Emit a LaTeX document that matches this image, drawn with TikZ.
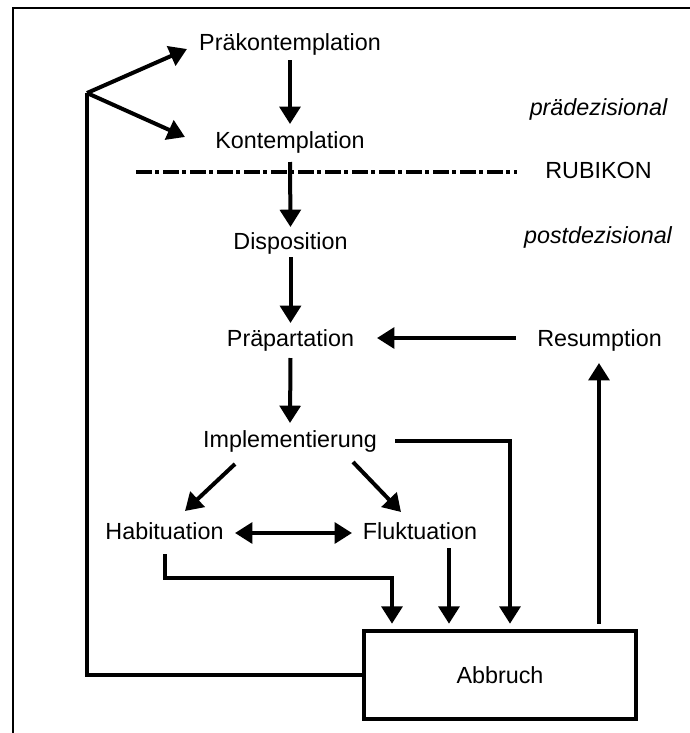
\documentclass[tikz,border=0pt]{standalone}
\usepackage{fontspec}
\setmainfont{Liberation Sans}
\usetikzlibrary{arrows.meta,calc}
\begin{document}
\begin{tikzpicture}[x=0.75pt,y=-0.75pt,
  lbl/.style={font=\fontsize{17.5}{20}\selectfont, inner sep=0pt, anchor=base},
  ilbl/.style={lbl, font=\fontsize{17.5}{20}\selectfont\itshape},
  conn/.style={line width=3pt},
  arr/.style={conn, -{Triangle[length=13pt,width=15.5pt]}},
  darr/.style={conn, {Triangle[length=13pt,width=15.5pt]}-{Triangle[length=13pt,width=15.5pt]}},
  boxst/.style={draw, line width=3.4pt, minimum width=204pt, minimum height=66pt, inner sep=0pt, font=\fontsize{17.5}{20}\selectfont},
  rubline/.style={line width=3.6pt, dash pattern=on 12pt off 2.25pt on 3pt off 3pt},
]
\useasboundingbox (0,0) rectangle (690,733);
\draw[line width=1.5pt] (13,733) -- (13,8) -- (690,8);

% nodes
\node[lbl] (pk) at (290,50) {Präkontemplation};
\node[lbl] (ko) at (290,148) {Kontemplation};
\node[ilbl] (pre) at (598.5,115) {prädezisional};
\node[lbl] (rub) at (598.5,178) {RUBIKON};
\node[lbl] (di) at (290.5,249) {Disposition};
\node[ilbl] (post) at (598,243) {postdezisional};
\node[lbl] (pp) at (290.5,346) {Präpartation};
\node[lbl] (re) at (599.5,346) {Resumption};
\node[lbl] (im) at (290,447) {Implementierung};
\node[lbl] (ha) at (164.5,539) {Habituation};
\node[lbl] (fl) at (420,539) {Fluktuation};
\node[boxst] (ab) at (500,675) {Abbruch};

% helper coordinates
\coordinate (fork) at (87,93);
\coordinate (rubL) at (136,172);
\coordinate (rubR) at (517,172);

% Rubikon line
\draw[rubline] (rubL) -- (rubR);

% main chain
\draw[arr] ($(pk.base)+(0,10)$) -- ($(ko.base)+(0,-24)$);
\draw[arr] ($(ko.base)+(0,14)$) -- ($(di.base)+(0,-22)$);
\draw[arr] ($(di.base)+(0,8)$) -- ($(pp.base)+(0,-23)$);
\draw[arr] ($(pp.base)+(0,12)$) -- ($(im.base)+(0,-24)$);

% resumption
\draw[arr] ($(re.base)+(-83.5,-8)$) -- ($(pp.base)+(86.5,-8)$);
\draw[arr] ($(ab.north)+(99,-5)$) -- ($(re.base)+(-0.5,17)$);

% implementierung branches
\draw[arr] ($(im.base)+(-55,17)$) -- ($(ha.base)+(20.5,-28)$);
\draw[arr] ($(im.base)+(63,15)$) -- ($(fl.base)+(-19,-27)$);
\draw[darr] ($(ha.base)+(70.5,-6)$) -- ($(fl.base)+(-68,-6)$);

% into Abbruch
\draw[arr] ($(ha.base)+(0,15)$) -- ($(ha.base)+(0,39)$) -| ($(ab.north)+(-108,-5)$);
\draw[arr] ($(fl.base)+(29,9)$) -- ($(ab.north)+(-51,-5)$);
\draw[arr] ($(im.base)+(105,-6)$) -| ($(ab.north)+(10,-5)$);

% back loop
\draw[conn] (ab.west) -| (fork);
\draw[arr] (fork) -- ($(pk.base)+(-103,-1)$);
\draw[arr] (fork) -- ($(ko.base)+(-105,-11)$);
\end{tikzpicture}
\end{document}
